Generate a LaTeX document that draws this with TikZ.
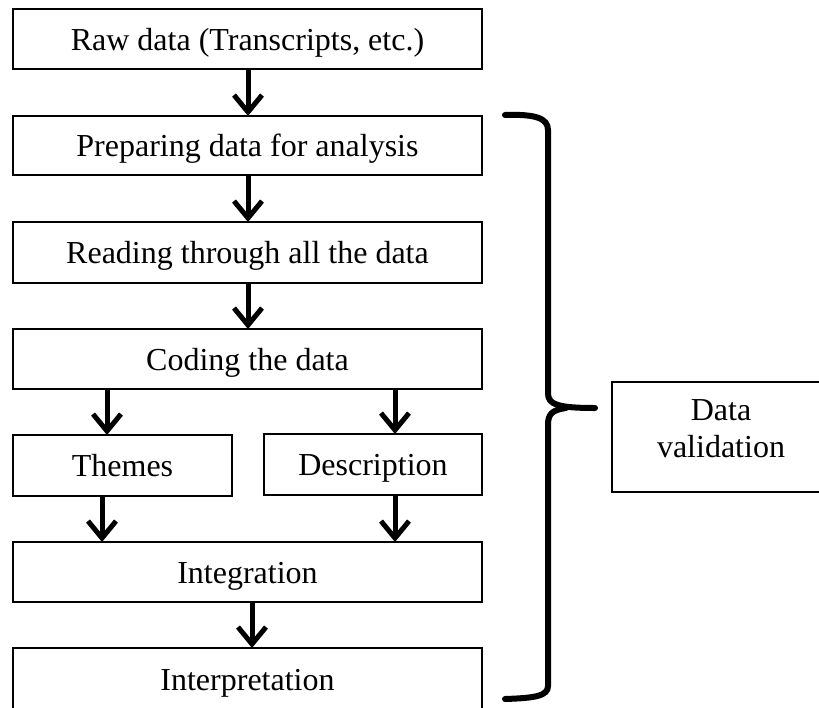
\documentclass[tikz,border=0pt]{standalone}
\usepackage{fontspec}
\setmainfont{Liberation Serif}
\usetikzlibrary{arrows.meta}
\begin{document}
\begin{tikzpicture}[x=1pt,y=-1pt,
  box/.style={draw, line width=1.6pt, rectangle, inner sep=0pt, outer sep=0pt,
    font=\fontsize{32}{37}\selectfont, align=center},
  oneline/.style={text height=29pt, text depth=7pt},
  wide/.style={box, oneline, minimum width=469pt},
  half/.style={box, minimum width=218pt},
  arr/.style={line width=5pt, -{Straight Barb[length=17pt,width=28pt,line width=5pt]}},
  bracestroke/.style={line width=6pt, line cap=round}]
\useasboundingbox (0,0) rectangle (819,707);
\clip (0,0) rectangle (819,707);

\node[wide, minimum height=60pt] (raw) at (247.5,39) {Raw data (Transcripts, etc.)};
\node[wide, minimum height=59pt] (prep) at (247.5,145.5) {Preparing data for analysis};
\node[wide, minimum height=61pt] (read) at (247.5,252.5) {Reading through all the data};
\node[wide, minimum height=60pt] (code) at (247.5,359) {Coding the data};
\node[half, oneline, minimum height=61pt, minimum width=219pt] (themes) at (122.5,465.5) {Themes};
\node[half, oneline, minimum height=61pt] (desc) at (373,464.5) {Description};
\node[wide, minimum height=60pt] (integ) at (247.5,572) {Integration};
\node[wide, minimum height=62pt] (interp) at (247.5,679) {Interpretation};
\node[half, minimum height=110pt] (valid) at (721,437) {Data\\validation\\[-20pt]};

\draw[arr] ([xshift=0.5pt]raw.south) -- ([xshift=0.5pt]prep.north);
\draw[arr] ([xshift=0.5pt]prep.south) -- ([xshift=0.5pt]read.north);
\draw[arr] ([xshift=0.5pt]read.south) -- ([xshift=0.5pt]code.north);
\draw[arr] ([xshift=94pt]code.south west) -- ([xshift=94pt]themes.north west);
\draw[arr] ([xshift=-87pt]code.south east) -- ([xshift=-87pt]desc.north east);
\draw[arr] ([xshift=89pt]themes.south west) -- ([xshift=89pt]integ.north west);
\draw[arr] ([xshift=-87pt]desc.south east) -- ([xshift=-87pt]integ.north east);
\draw[arr] ([xshift=4.5pt]integ.south) -- ([xshift=4.5pt]interp.north);

% brace
\draw[bracestroke] (505,115) .. controls (535,114) and (548,118) .. (548,130)
  -- (548,393) .. controls (548,404) and (556,408) .. (595,408);
\draw[bracestroke] (566,408) .. controls (552,410) and (548,414) .. (548,425)
  -- (548,686) .. controls (548,696) and (535,698) .. (505,699);
\end{tikzpicture}
\end{document}
